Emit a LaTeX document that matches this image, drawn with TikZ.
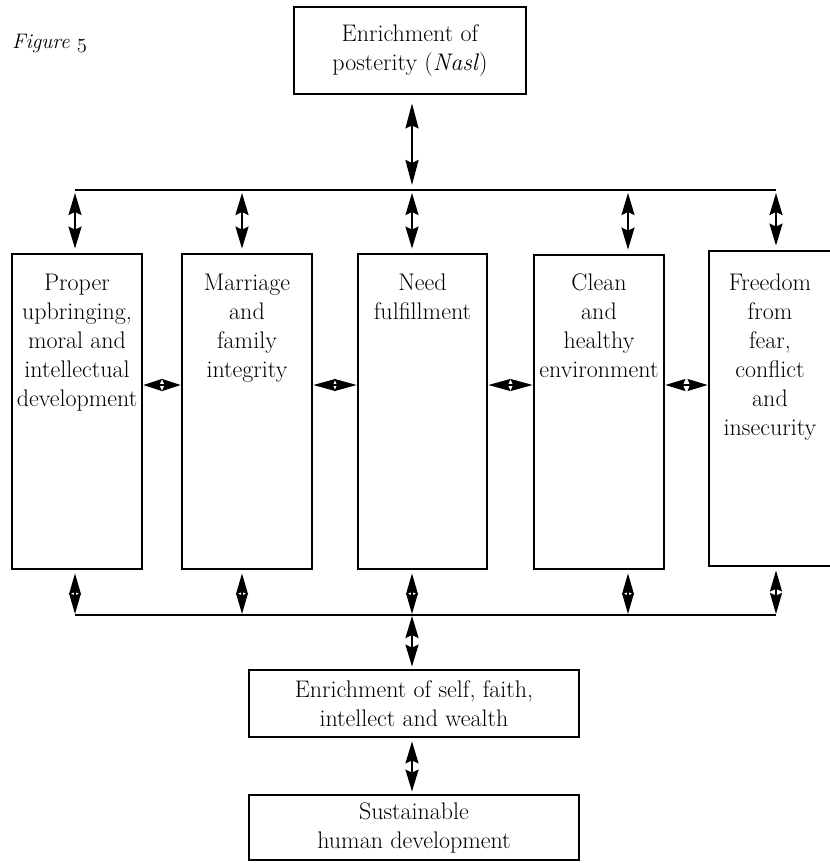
\documentclass[tikz,border=0pt]{standalone}
\usepackage{fontspec}
\usetikzlibrary{arrows.meta}
\begin{document}
\begin{tikzpicture}[x=1pt,y=-1pt,
  box/.style={draw, line width=2.8pt, inner sep=0pt},
  lbl/.style={align=center, inner sep=0pt, font=\fontsize{24}{29}\selectfont},
  bus/.style={line width=2.8pt},
  % double-headed connector with a short visible shaft
  link/.style={line width=2.2pt,
    {Stealth[length=#1,width=13pt,inset=3pt]}-{Stealth[length=#1,width=13pt,inset=3pt]}},
  link/.default=22pt,
  % two heads meeting back to back
  diam/.style={line width=1.4pt,
    {Stealth[length=#1,width=12pt,inset=2.5pt]}-{Stealth[length=#1,width=12pt,inset=2.5pt]}},
  diam/.default=20pt]
\useasboundingbox (0,0) rectangle (830,863);

% caption
\node[anchor=west, inner sep=0pt, font=\fontsize{21}{25}\selectfont\itshape] (fig) at (12,43) {Figure $\mathnormal{5}$};

% top and bottom boxes
\node[box, lbl, minimum width=232pt, minimum height=87pt] (top) at (410,50.5)
  {Enrichment of\\posterity (\textit{Nasl})};
\node[box, lbl, minimum width=330pt, minimum height=67pt] (self) at (414,703.5)
  {Enrichment of self, faith,\\intellect and wealth};
\node[box, lbl, minimum width=330pt, minimum height=65pt] (sust) at (414,827.5)
  {Sustainable\\human development};

% the five tall boxes
\node[box, minimum width=130pt, minimum height=315pt] (b1) at (77,411.5) {};
\node[box, minimum width=130pt, minimum height=315pt] (b2) at (247,411.5) {};
\node[box, minimum width=129pt, minimum height=315pt] (b3) at (422.5,411.5) {};
\node[box, minimum width=130pt, minimum height=314pt] (b4) at (599,412) {};
\node[box, minimum width=130pt, minimum height=315pt] (b5) at (774,408.5) {};

\node[lbl, anchor=north] (l1) at (77,273.5) {Proper\\upbringing,\\moral and\\intellectual\\development};
\node[lbl, anchor=north] (l2) at (247,273.5) {Marriage\\and\\family\\integrity};
\node[lbl, anchor=north] (l3) at (422.5,273.5) {Need\\fulfillment};
\node[lbl, anchor=north] (l4) at (599,273.5) {Clean\\and\\healthy\\environment};
\node[lbl, anchor=north] (l5) at (770,273.5) {Freedom\\from\\fear,\\conflict\\and\\insecurity};

% upper bus
\coordinate (t1) at (75,190);
\coordinate (t2) at (242,190);
\coordinate (t3) at (412,190);
\coordinate (t4) at (628,190);
\coordinate (t5) at (776,190);
\draw[bus] (t1) -- (t5);
\draw[link=25pt, shorten <=8pt, shorten >=5pt] (top.south -| t3) -- (t3);
\foreach \i in {1,...,5}
  \draw[link, shorten <=3pt, shorten >=4pt] (t\i) -- (t\i |- b\i.north);

% lower bus
\coordinate (u1) at (75,615);
\coordinate (u2) at (242,615);
\coordinate (u3) at (412,615);
\coordinate (u4) at (628,615);
\coordinate (u5) at (776,615);
\draw[bus] (u1) -- (u5);
\foreach \i in {1,...,5}
  \draw[diam=21pt, shorten <=3pt, shorten >=1pt] (u\i |- b\i.south) -- (u\i);
\draw[link, shorten <=1pt, shorten >=2pt] (u3) -- (self.north -| u3);
\draw[link, shorten <=3pt, shorten >=2pt] (self.south -| u3) -- (sust.north -| u3);

% side links between neighbouring boxes
\coordinate (row) at (0,385);
\draw[diam=18.5pt] (b1.east |- row) -- (b2.west |- row);
\draw[diam=22pt] (b2.east |- row) -- (b3.west |- row);
\draw[diam=22pt] (b3.east |- row) -- (b4.west |- row);
\draw[diam=20pt] (b4.east |- row) -- (b5.west |- row);
\end{tikzpicture}
\end{document}
